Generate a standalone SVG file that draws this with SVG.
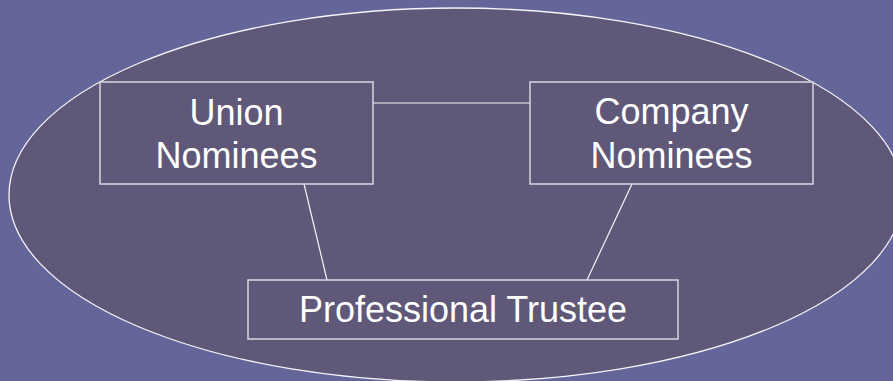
<svg xmlns="http://www.w3.org/2000/svg" width="893" height="381" viewBox="0 0 893 381">
<style>
.box{fill:#5f5878;stroke:#d8d6e0;stroke-width:1.5}
.lbl{font-family:"Liberation Sans",Arial,sans-serif;font-size:36px;fill:#ffffff;text-anchor:middle}
.con{stroke:#f4f4f8;stroke-width:1.2;fill:none}
</style>
<rect x="0" y="0" width="893" height="381" fill="#646598"/>
<ellipse cx="456" cy="195" rx="447" ry="187" fill="#5f5878" stroke="#f4f4f8" stroke-width="1.3"/>
<g id="connectors">
<line class="con" x1="373" y1="103" x2="530" y2="103"/>
<line class="con" x1="304" y1="184" x2="327" y2="280"/>
<line class="con" x1="632" y1="184" x2="587" y2="280"/>
</g>
<g id="union">
<rect class="box" x="100" y="82" width="273" height="102"/>
<text class="lbl" x="236.5" y="125">Union</text>
<text class="lbl" x="236.5" y="168">Nominees</text>
</g>
<g id="company">
<rect class="box" x="530" y="82" width="283" height="102"/>
<text class="lbl" x="671.5" y="124">Company</text>
<text class="lbl" x="671.5" y="168">Nominees</text>
</g>
<g id="trustee">
<rect class="box" x="248" y="280" width="430" height="59"/>
<text class="lbl" x="463" y="322">Professional Trustee</text>
</g>
</svg>
